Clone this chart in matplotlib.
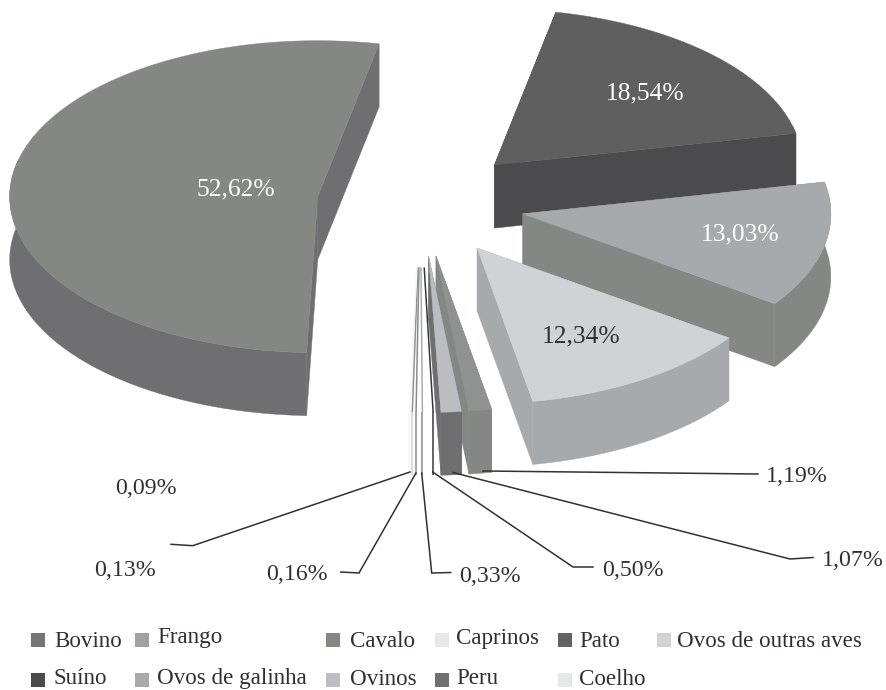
import numpy as np
import matplotlib
matplotlib.use("Agg")
import matplotlib.pyplot as plt
from matplotlib.patches import Polygon

# ---- data -----------------------------------------------------------
pie_values = [18.54, 13.03, 12.34, 1.19, 1.07, 0.50, 0.33, 0.16, 0.13, 0.09, 52.62]
pie_labels = ["18,54%", "13,03%", "12,34%", "1,19%", "1,07%", "0,50%",
              "0,33%", "0,16%", "0,13%", "0,09%", "52,62%"]
top_colors = ["#5f5f5f", "#a7aaac", "#d0d3d6", "#909291", "#bcbdc1", "#38383a",
              "#a9abad", "#8a8c8c", "#8f9191", "#f6f6f6", "#858785"]
wall_colors = ["#4b4b4d", "#858785", "#a7aaac", "#858785", "#6f6f71", "#38383a",
               "#8a8c8c", "#8a8c8c", "#d0d3d6", "#f6f6f6", "#6f6f71"]
legend_names = ["Bovino", "Suíno", "Frango", "Ovos de galinha", "Cavalo", "Ovinos",
                "Caprinos", "Peru", "Pato", "Coelho", "Ovos de outras aves"]
legend_colors = ["#757575", "#4b4b4d", "#a0a2a2", "#a7aaac", "#858785", "#bcbdc1",
                 "#e6e7e8", "#6f6f71", "#636363", "#e6e7e8", "#d0d3d6"]

# ---- layout (pixels) -------------------------------------------------
W, H = 886, 690
CX, CY = 421, 203
RX, RY = 308, 156
EX, EY = 104, 53.5
DEPTH = 63
START = 11.5
SLIVER_MAX = 0.6
SLIVER_SHIFT = -0.4
label_xy = {"18,54%": (645, 93), "13,03%": (740, 234), "12,34%": (581, 336),
            "52,62%": (236, 189), "1,19%": (797, 476), "1,07%": (853, 560),
            "0,50%": (633, 570), "0,33%": (490, 576), "0,16%": (297, 574),
            "0,13%": (125, 571), "0,09%": (146, 488)}
label_white = {"18,54%", "13,03%", "52,62%"}
BIG_LABEL_SIZE = 18.4
SMALL_LABEL_SIZE = 17.2
leaders = {"1,19%": [(483, 471), (758, 474)],
           "1,07%": [(453, 472.5), (790, 559), (813, 557.5)],
           "0,50%": [(432.7, 472), (573, 567), (593, 567)],
           "0,33%": [(421.7, 473), (431.7, 573), (450.7, 572.5)],
           "0,16%": [(416, 473), (359, 573), (340.7, 572)],
           "0,13%": [(410, 472), (192.7, 545.7), (171, 544.3)]}
legend_cols = [(31, 54), (135, 157), (326, 350), (435, 456), (558, 579), (657, 677)]
legend_baseline = {"Bovino": 647, "Suíno": 684, "Frango": 643, "Ovos de galinha": 684,
                   "Cavalo": 647, "Ovinos": 685, "Caprinos": 644, "Peru": 684,
                   "Pato": 647, "Coelho": 685, "Ovos de outras aves": 647}
legend_swatch_y = {"Bovino": 640, "Suíno": 680, "Frango": 640, "Ovos de galinha": 680,
                   "Cavalo": 640, "Ovinos": 680, "Caprinos": 640, "Peru": 680,
                   "Pato": 640, "Coelho": 680, "Ovos de outras aves": 640}
legend_col_of = {"Bovino": 0, "Suíno": 0, "Frango": 1, "Ovos de galinha": 1,
                 "Cavalo": 2, "Ovinos": 2, "Caprinos": 3, "Peru": 3,
                 "Pato": 4, "Coelho": 4, "Ovos de outras aves": 5}
TEXT = "#332f30"
plt.rcParams["font.family"] = ["Liberation Serif", "DejaVu Serif"]

fig = plt.figure(figsize=(W / 100, H / 100), dpi=100)
ax = fig.add_axes([0, 0, 1, 1])
ax.set_xlim(0, W)
ax.set_ylim(H, 0)
ax.axis("off")


def rim(tip, deg):
    t = np.radians(deg)
    return np.column_stack((tip[0] + RX * np.sin(t), tip[1] - RY * np.cos(t)))


def poly(pts, color, z):
    ax.add_patch(Polygon(pts, closed=True, facecolor=color, edgecolor=color,
                         linewidth=0.3, zorder=z))


total = sum(pie_values)
edges = START + np.concatenate(([0], np.cumsum(pie_values))) * 360 / total
z = 2
for i, v in enumerate(pie_values):
    a0, a1 = edges[i], edges[i + 1]
    mid = np.radians((a0 + a1) / 2)
    tip = np.array([CX + EX * np.sin(mid), CY - EY * np.cos(mid)])
    if v < SLIVER_MAX:
        m = np.radians((a0 + a1) / 2 + SLIVER_SHIFT)
        end = np.array([tip[0] + RX * np.sin(m), tip[1] - RY * np.cos(m)])
        begin = tip + 0.07 * (end - tip)
        ax.plot([begin[0], end[0]], [begin[1], end[1]], color=top_colors[i],
                lw=1.1, zorder=20, solid_capstyle="butt")
        ax.plot([end[0], end[0]], [end[1], end[1] + DEPTH], color=wall_colors[i],
                lw=1.1, zorder=20, solid_capstyle="butt")
        continue
    deg = np.linspace(a0, a1, 200)
    arc = rim(tip, deg)
    down = np.array([0, DEPTH])
    order = sorted([arc[0], arc[-1]], key=lambda p: p[1])
    for p in order:
        poly([tip, p, p + down, tip + down], wall_colors[i], z)
    front = np.cos(np.radians(deg)) < 0.25
    if front.any():
        a = arc[front]
        poly(np.vstack((a, (a + down)[::-1])), wall_colors[i], z)
    poly(np.vstack(([tip], arc)), top_colors[i], z + 0.5)
    z += 1

for name, pts in leaders.items():
    xs, ys = zip(*pts)
    ax.plot(xs, ys, color="#333132", lw=1.1, zorder=30, solid_joinstyle="miter")

for name in pie_labels:
    x, y = label_xy[name]
    size = BIG_LABEL_SIZE if name in label_white or name == "12,34%" else SMALL_LABEL_SIZE
    ax.text(x, y, name, ha="center", va="center", fontsize=size, zorder=40,
            color="white" if name in label_white else TEXT)

for name, col in zip(legend_names, legend_colors):
    sx, tx = legend_cols[legend_col_of[name]]
    y = legend_swatch_y[name]
    ax.add_patch(Polygon([(sx, y - 7), (sx + 14, y - 7), (sx + 14, y + 7), (sx, y + 7)],
                         closed=True, facecolor=col, edgecolor="none"))
    ax.text(tx, legend_baseline[name], name, ha="left", va="baseline", fontsize=16.6, color=TEXT)

fig.savefig("out.png", dpi=100)
